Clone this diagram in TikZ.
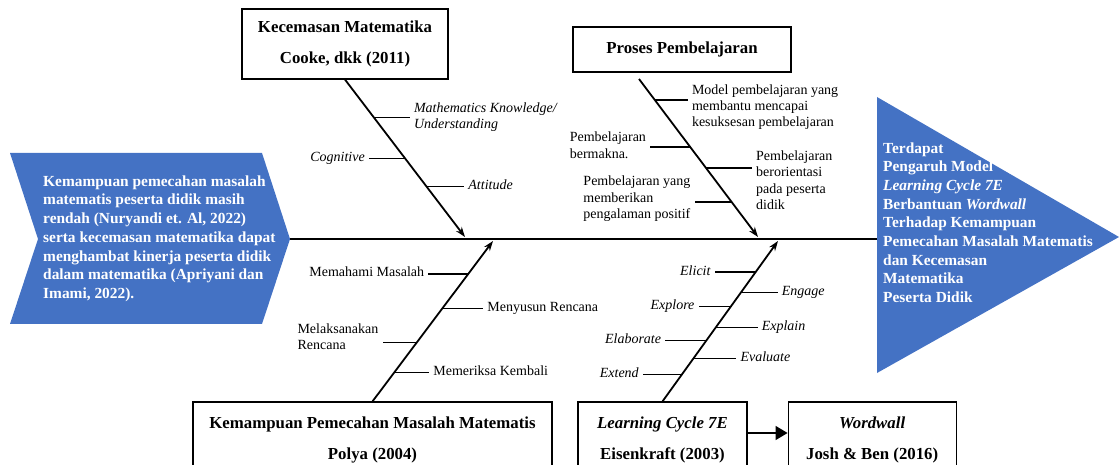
\documentclass[tikz,border=0pt]{standalone}
\usepackage{fontspec}
\setmainfont{Liberation Serif}
\usetikzlibrary{arrows.meta,positioning,calc}
\definecolor{fishblue}{HTML}{4472C4}

\tikzset{
  box/.style={draw,line width=1.2pt,align=center,inner sep=0pt,
    font=\fontsize{16.8}{31}\selectfont\bfseries,text depth=4.2pt},
  bluetext/.style={text=white,align=left,inner sep=0pt,
    font=\fontsize{15.4}{18.7}\selectfont\bfseries,text depth=3.9pt},
  lbl/.style={align=left,inner xsep=4pt,inner ysep=0pt,
    font=\fontsize{14}{16.3}\selectfont,text depth=3.5pt},
  ilbl/.style={lbl,font=\fontsize{14}{16.3}\selectfont\itshape},
  bone/.style={line width=1.8pt,-{Stealth[length=10pt,width=7pt]}},
  rib/.style={line width=1.3pt},
}

\begin{document}
\begin{tikzpicture}[x=1pt,y=-1pt]
\useasboundingbox (0,0) rectangle (1120,465);

\fill[fishblue] (10,153) -- (262,153) -- (290,239) -- (262,324) -- (10,324) -- (38,239) -- cycle;
\fill[fishblue] (877,97) -- (1119,237) -- (877,373) -- cycle;
\node[bluetext,anchor=west] (cause) at (43,239) {Kemampuan pemecahan masalah\\matematis peserta didik masih\\rendah (Nuryandi et. Al, 2022)\\serta kecemasan matematika dapat\\menghambat kinerja peserta didik\\dalam matematika (Apriyani dan\\Imami, 2022).};
\node[bluetext,anchor=west] (effect) at (883,224.5) {Terdapat\\Pengaruh Model\\\textit{Learning Cycle 7E}\\Berbantuan \textit{Wordwall}\\Terhadap Kemampuan\\Pemecahan Masalah Matematis\\dan Kecemasan\\Matematika\\Peserta Didik};

\coordinate (tail) at (290,239);
\coordinate (head) at (877,239);
\draw[line width=2.2pt] (tail) -- (head);

\node[box,minimum width=206pt,minimum height=70pt] (kcm) at (345,44) {Kecemasan Matematika\\Cooke, dkk (2011)};
\node[box,minimum width=218pt,minimum height=45pt] (pb) at (682,49.5) {Proses Pembelajaran};
\node[box,minimum width=359pt,minimum height=76pt] (kpm) at (372.5,440) {Kemampuan Pemecahan Masalah Matematis\\Polya (2004)};
\node[box,minimum width=169pt,minimum height=76pt] (lc) at (662.5,440) {\textit{Learning Cycle 7E}\\Eisenkraft (2003)};
\node[box,minimum width=168pt,minimum height=76pt,right=40pt of lc] (ww) {\textit{Wordwall}\\Josh \& Ben (2016)};
\draw[line width=1.3pt,-{Triangle[length=12pt,width=14pt]}] ([yshift=7pt]lc.east) -- ([yshift=7pt]ww.west);

\coordinate (pbs) at (639,79);
\coordinate (e1) at (465,237);
\coordinate (e2) at (758,237);
\coordinate (e3) at (493,241);
\coordinate (e4) at (778,241);
\draw[bone] (kcm.south) -- (e1);
\draw[bone] (pbs) -- (e2);
\draw[bone] (kpm.north) -- (e3);
\draw[bone] (lc.north) -- (e4);

\path (kcm.south) -- (e1) coordinate[pos=.24] (k1) coordinate[pos=.5] (k2) coordinate[pos=.677] (k3);
\node[ilbl,anchor=west] (mk) at ($(k1)+(36,0)$) {Mathematics Knowledge/\\Understanding};
\node[ilbl,anchor=east] (cog) at ($(k2)+(-36,0)$) {Cognitive};
\node[ilbl,anchor=west] (att) at ($(k3)+(38,0)$) {Attitude};
\draw[rib] (k1) -- (k1 -| mk.west);
\draw[rib] (k2) -- (k2 -| cog.east);
\draw[rib] (k3) -- (k3 -| att.west);

\path (pbs) -- (e2) coordinate[pos=.133] (p1) coordinate[pos=.43] (p2) coordinate[pos=.563] (p3) coordinate[pos=.778] (p4);
\node[lbl,anchor=west] (mdl) at ($(p1)+(33,7.5)$) {Model pembelajaran yang\\membantu mencapai\\kesuksesan pembelajaran};
\node[lbl,anchor=east] (bmk) at ($(p2)+(-40,0)$) {Pembelajaran\\bermakna.};
\node[lbl,anchor=west] (bor) at ($(p3)+(46,14)$) {Pembelajaran\\berorientasi\\pada peserta\\didik};
\node[lbl,anchor=east] (pyg) at ($(p4)+(-37,-3)$) {Pembelajaran yang\\memberikan\\pengalaman positif};
\draw[rib] (p1) -- (p1 -| mdl.west);
\draw[rib] (p2) -- (p2 -| bmk.east);
\draw[rib] (p3) -- (p3 -| bor.west);
\draw[rib] (p4) -- (p4 -| pyg.east);

\path (kpm.north) -- (e3) coordinate[pos=.795] (m1) coordinate[pos=.578] (m2) coordinate[pos=.366] (m3) coordinate[pos=.18] (m4);
\node[lbl,anchor=east] (mhm) at ($(m1)+(-40,0)$) {Memahami Masalah};
\node[lbl,anchor=west] (mys) at ($(m2)+(41,0)$) {Menyusun Rencana};
\node[lbl,anchor=east] (mls) at ($(m3)+(-34,-4.5)$) {Melaksanakan\\Rencana};
\node[lbl,anchor=west] (mmk) at ($(m4)+(35,0)$) {Memeriksa Kembali};
\draw[rib] (m1) -- (m1 -| mhm.east);
\draw[rib] (m2) -- (m2 -| mys.west);
\draw[rib] (m3) -- (m3 -| mls.east);
\draw[rib] (m4) -- (m4 -| mmk.west);

\path (lc.north) -- (e4) coordinate[pos=.807] (c1) coordinate[pos=.677] (c2) coordinate[pos=.59] (c3) coordinate[pos=.46] (c4) coordinate[pos=.379] (c5) coordinate[pos=.267] (c6) coordinate[pos=.168] (c7);
\node[ilbl,anchor=east] (eli) at ($(c1)+(-41,0)$) {Elicit};
\node[ilbl,anchor=west] (eng) at ($(c2)+(37,0)$) {Engage};
\node[ilbl,anchor=east] (exo) at ($(c3)+(-32,0)$) {Explore};
\node[ilbl,anchor=west] (exa) at ($(c4)+(42,0)$) {Explain};
\node[ilbl,anchor=east] (ela) at ($(c5)+(-41,0)$) {Elaborate};
\node[ilbl,anchor=west] (eva) at ($(c6)+(43,0)$) {Evaluate};
\node[ilbl,anchor=east] (ext) at ($(c7)+(-39,0)$) {Extend};
\draw[rib] (c1) -- (c1 -| eli.east);
\draw[rib] (c2) -- (c2 -| eng.west);
\draw[rib] (c3) -- (c3 -| exo.east);
\draw[rib] (c4) -- (c4 -| exa.west);
\draw[rib] (c5) -- (c5 -| ela.east);
\draw[rib] (c6) -- (c6 -| eva.west);
\draw[rib] (c7) -- (c7 -| ext.east);
\end{tikzpicture}
\end{document}
